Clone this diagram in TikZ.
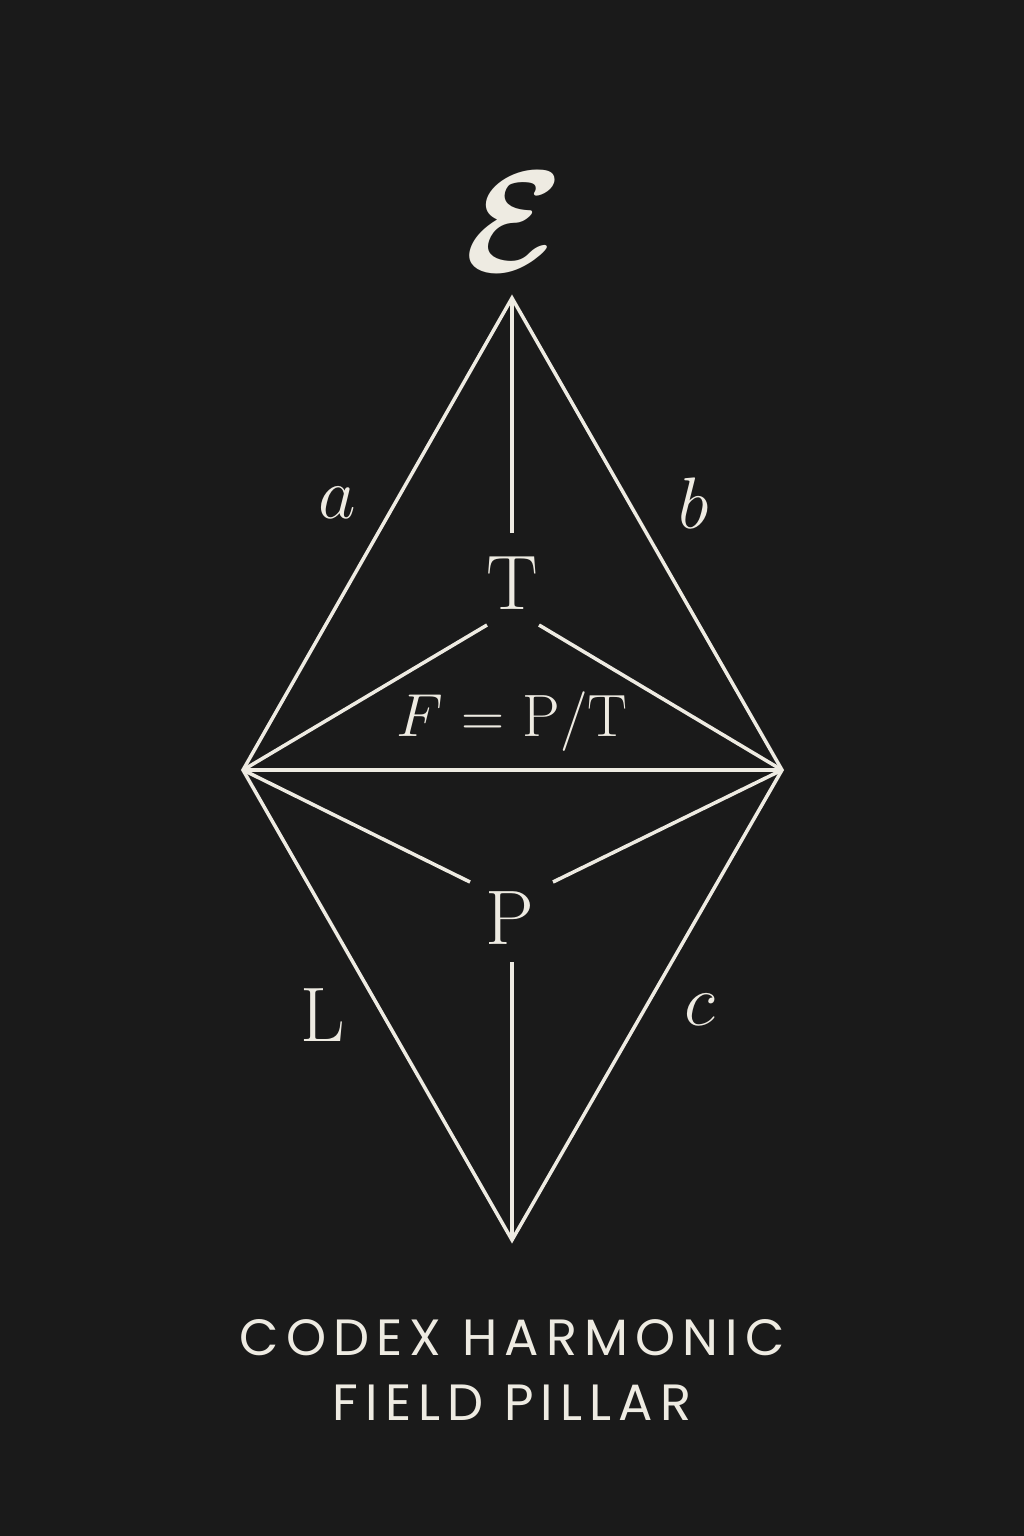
\documentclass[tikz,border=0pt]{standalone}
\usepackage{bm}
\usepackage{fontspec}
\newfontfamily\titlefont[LetterSpace=14]{Poppins}
\definecolor{bgcol}{HTML}{1A1A1A}
\definecolor{inkcol}{HTML}{EEEBE2}
\begin{document}
\begin{tikzpicture}[
        x=0.01cm, y=-0.01cm,
        edge/.style={draw=inkcol, line width=1pt},
        letter/.style={text=inkcol, font=\fontsize{22}{24}\selectfont, inner sep=0pt},
        title/.style={text=inkcol, font=\titlefont\fontsize{14.5}{18}\selectfont, align=center, inner sep=0pt}
    ]
    
    \fill[bgcol] (0,0) rectangle (1024,1536);
    
    \coordinate (top) at (512,298);
    \coordinate (left) at (243,770);
    \coordinate (right) at (782,770);
    \coordinate (bottom) at (512,1240);
    \coordinate (tstem) at (512,533);
    \coordinate (tleft) at (487,625);
    \coordinate (tright) at (539,625);
    \coordinate (pleft) at (470,882);
    \coordinate (pright) at (553,882);
    \coordinate (pstem) at (512,962);
    
    \node[letter, font=\fontsize{24.88}{28}\selectfont] (energy) at (514,222) {\scalebox{1.65}{$\bm{\mathcal{E}}$}};
    \node[letter] (tnode) at (512,583) {T};
    \node[letter] (pnode) at (510,918) {P};
    \node[letter, font=\fontsize{17}{20}\selectfont] (ratio) at (512,722) {$F$ = P/T};
    \node[letter] (alab) at (337,503) {$a$};
    \node[letter] (blab) at (694,503) {$b$};
    \node[letter] (llab) at (323,1015) {L};
    \node[letter] (clab) at (700,1010) {$c$};
    
    \draw[edge] (top) -- (left) -- (bottom) -- (right) -- cycle;
    \draw[edge] (left) -- (right);
    \draw[edge] (top) -- (tstem);
    \draw[edge] (left) -- (tleft);
    \draw[edge] (right) -- (tright);
    \draw[edge] (left) -- (pleft);
    \draw[edge] (right) -- (pright);
    \draw[edge] (pstem) -- (bottom);
    
    \node[title] (caption) at (512,1370) {CODEX HARMONIC\\[0.02cm]FIELD PILLAR};
    
\end{tikzpicture}
\end{document}
